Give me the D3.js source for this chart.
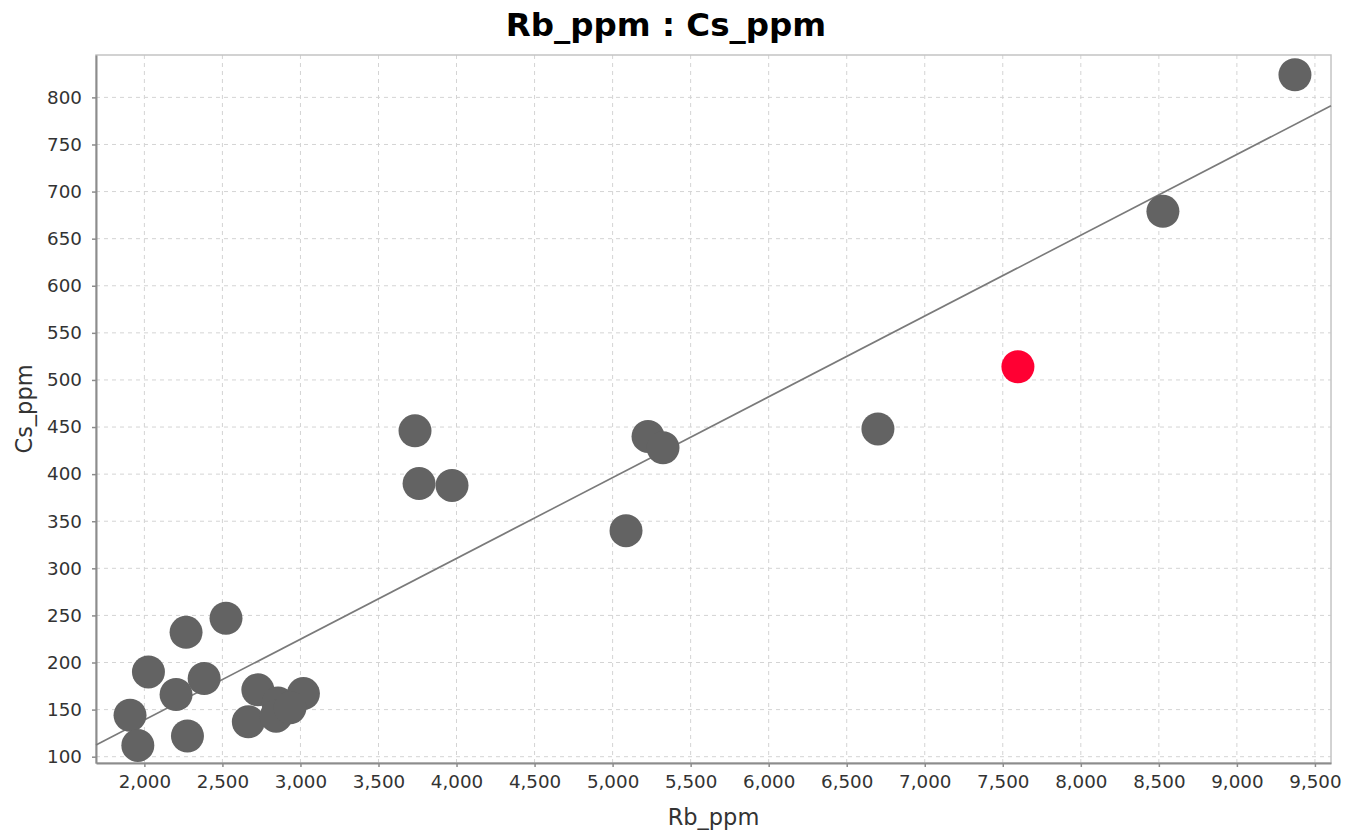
<!DOCTYPE html>
<html>
<head>
<meta charset="utf-8">
<script src="https://cdn.jsdelivr.net/npm/d3@7"></script>
<style>
  html, body { margin: 0; padding: 0; background: #fff; }
  svg { display: block; }
</style>
</head>
<body>
<svg id="chart" width="1345" height="836"></svg>
<script>
// ---- Data ----
const chartTitle = "Rb_ppm : Cs_ppm";
const xLabel = "Rb_ppm";
const yLabel = "Cs_ppm";
const rbValues = [9372, 8526, 7597, 6700, 5227, 5323, 5086, 3734, 3760, 3971,
                  2267, 2523, 2026, 2203, 2383, 1908, 1958, 2276, 2727, 2666,
                  3019, 2856, 2844, 2933];
const csValues = [824, 679, 514, 448, 440, 428, 340, 446, 390, 388,
                  232, 247, 190, 166, 183, 144, 112, 122, 171, 137,
                  167, 157, 143, 152];
const highlighted = [false, false, true, false, false, false, false, false, false, false,
                     false, false, false, false, false, false, false, false, false, false,
                     false, false, false, false];
const xDomain = [1690, 9603];
const yDomain = [93.3, 845];
const xTicks = [2000, 2500, 3000, 3500, 4000, 4500, 5000, 5500, 6000, 6500, 7000, 7500, 8000, 8500, 9000, 9500];
const yTicks = [100, 150, 200, 250, 300, 350, 400, 450, 500, 550, 600, 650, 700, 750, 800];
const fitSlope = 0.08578;
const fitIntercept = -32.6;

// ---- Layout ----
const svg = d3.select("#chart");
const plot = { left: 96, top: 55, right: 1331, bottom: 763 };

const x = d3.scaleLinear().domain(xDomain).range([plot.left, plot.right]);
const y = d3.scaleLinear().domain(yDomain).range([plot.bottom, plot.top]);

const fmt = d3.format(",");

// grid
const grid = svg.append("g");
grid.selectAll("line.vx").data(xTicks).join("line")
  .attr("x1", d => x(d)).attr("x2", d => x(d))
  .attr("y1", plot.top).attr("y2", plot.bottom)
  .attr("stroke", "#d4d4d4").attr("stroke-width", 1).attr("stroke-dasharray", "4,4");
grid.selectAll("line.hy").data(yTicks).join("line")
  .attr("x1", plot.left).attr("x2", plot.right)
  .attr("y1", d => y(d)).attr("y2", d => y(d))
  .attr("stroke", "#d4d4d4").attr("stroke-width", 1).attr("stroke-dasharray", "4,4");

// plot border (top/right lighter)
svg.append("rect")
  .attr("x", plot.left).attr("y", plot.top)
  .attr("width", plot.right - plot.left).attr("height", plot.bottom - plot.top)
  .attr("fill", "none").attr("stroke", "#c4c4c4").attr("stroke-width", 1.5);

// axes
const xAxis = d3.axisBottom(x).tickValues(xTicks).tickFormat(fmt).tickSize(4).tickSizeOuter(0).tickPadding(8);
const yAxis = d3.axisLeft(y).tickValues(yTicks).tickFormat(d3.format("d")).tickSize(4).tickSizeOuter(0).tickPadding(10);

const gx = svg.append("g").attr("transform", `translate(0,${plot.bottom})`).call(xAxis);
const gy = svg.append("g").attr("transform", `translate(${plot.left},0)`).call(yAxis);
[gx, gy].forEach(g => {
  g.select(".domain").attr("stroke", "#8c8c8c").attr("stroke-width", 2);
  g.selectAll(".tick line").attr("stroke", "#8c8c8c").attr("stroke-width", 1.5);
  g.selectAll(".tick text").attr("fill", "#333")
    .attr("font-family", "DejaVu Sans").attr("font-size", 18.3);
});

// regression line
const fitLine = d3.line().x(d => x(d)).y(d => y(fitSlope * d + fitIntercept));
svg.append("path")
  .attr("d", fitLine(xDomain))
  .attr("fill", "none").attr("stroke", "#7a7a7a").attr("stroke-width", 1.6);

// points
const pts = rbValues.map((v, i) => ({ x: v, y: csValues[i], hl: highlighted[i] }));
svg.append("g").selectAll("circle").data(pts).join("circle")
  .attr("cx", d => x(d.x)).attr("cy", d => y(d.y)).attr("r", 16.5)
  .attr("fill", d => d.hl ? "#ff0033" : "#636363");

// title and labels
svg.append("text").attr("x", 666).attr("y", 36)
  .attr("text-anchor", "middle").attr("font-family", "DejaVu Sans").attr("font-weight", "bold")
  .attr("font-size", 32.5).attr("fill", "#000").text(chartTitle);

svg.append("text").attr("x", (plot.left + plot.right) / 2).attr("y", 825)
  .attr("text-anchor", "middle").attr("font-family", "DejaVu Sans")
  .attr("font-size", 22.5).attr("fill", "#333").text(xLabel);

svg.append("text")
  .attr("transform", `translate(32,${(plot.top + plot.bottom) / 2}) rotate(-90)`)
  .attr("text-anchor", "middle").attr("font-family", "DejaVu Sans")
  .attr("font-size", 22.5).attr("fill", "#333").text(yLabel);
</script>
</body>
</html>
